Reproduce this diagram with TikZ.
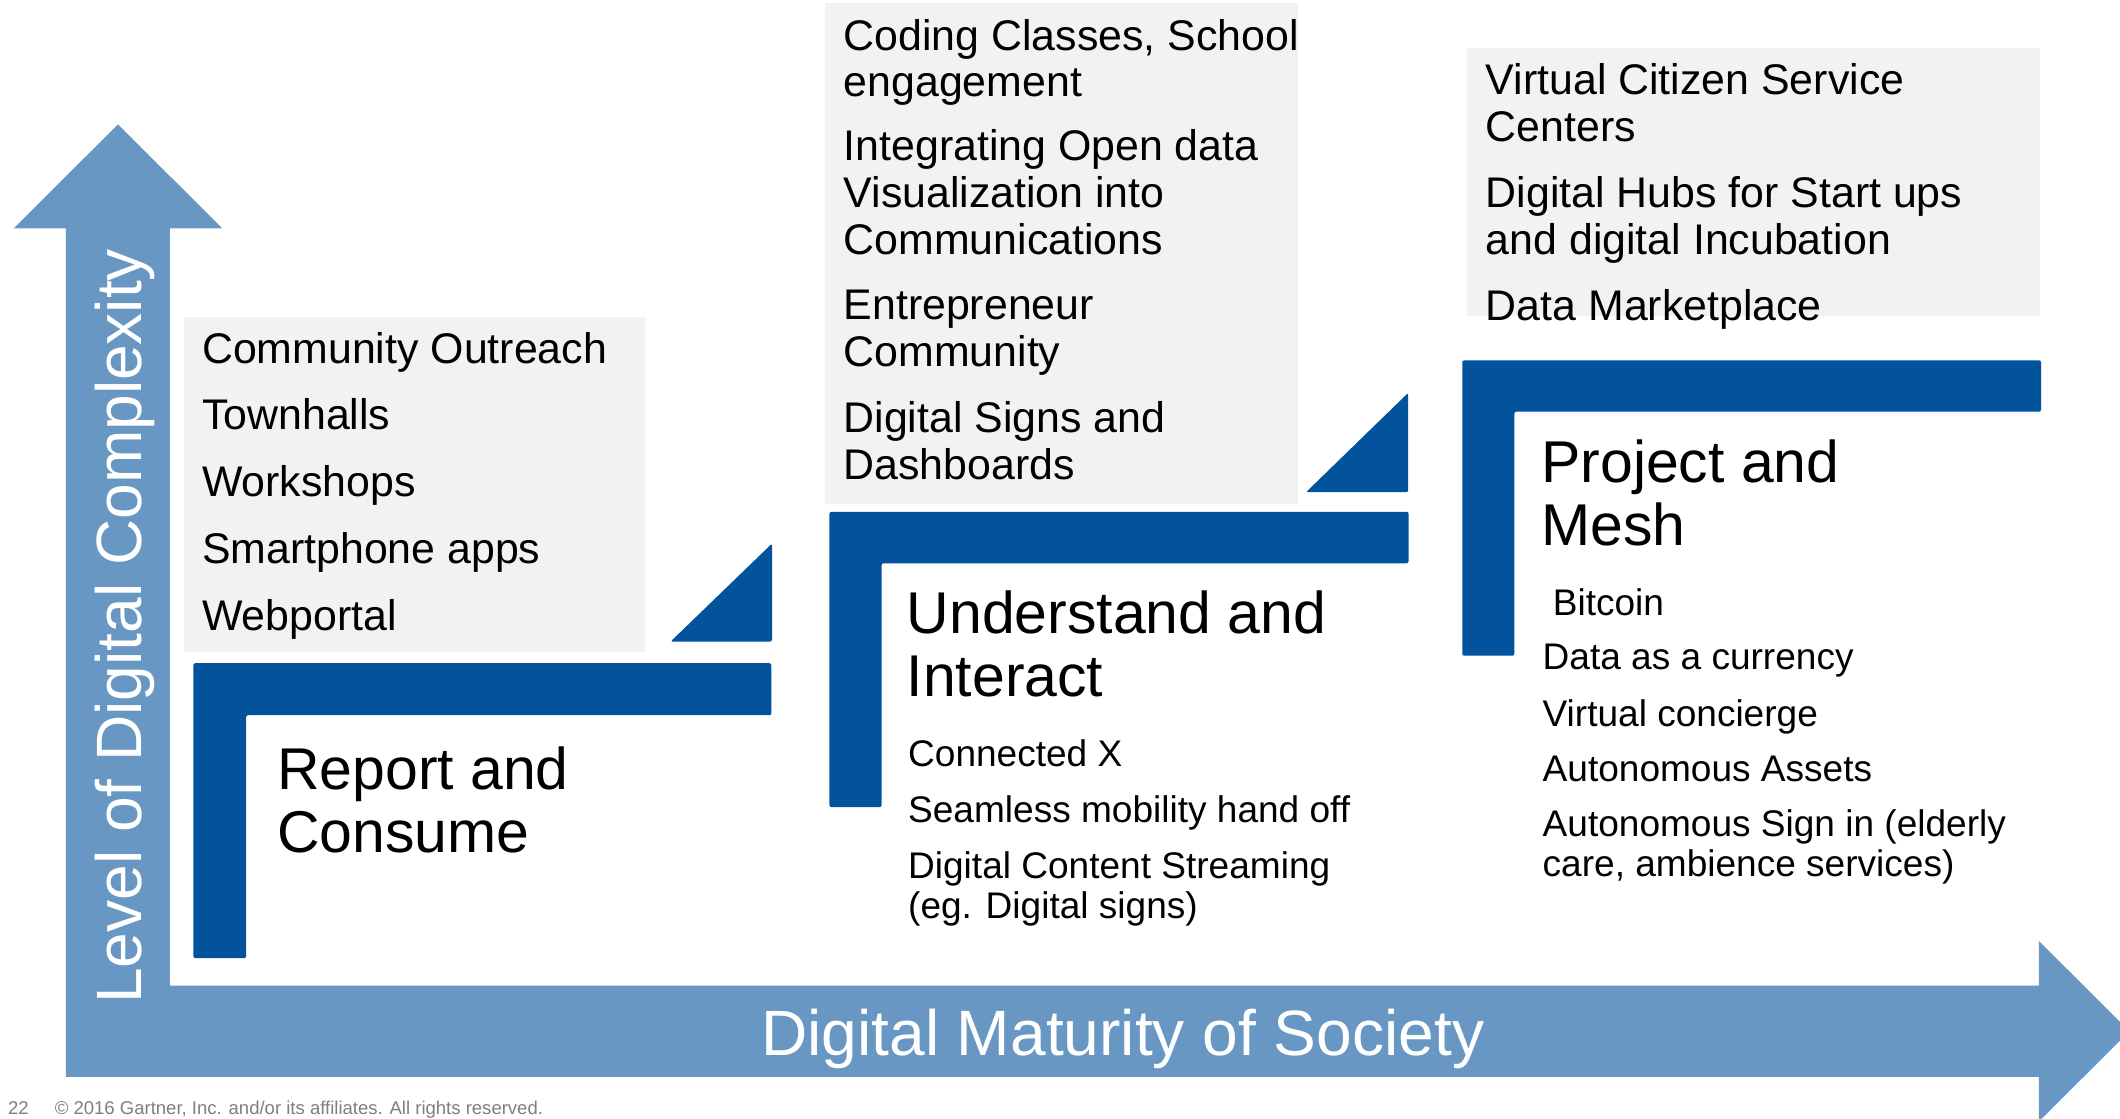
\documentclass[tikz,border=0pt]{standalone}
\usepackage{fontspec}
\setmainfont{Liberation Sans}
\definecolor{axisblue}{RGB}{104,151,195}
\definecolor{stepblue}{RGB}{2,83,155}
\definecolor{boxgray}{RGB}{242,242,242}
\definecolor{footgray}{RGB}{127,127,127}
\newcommand{\mylines}[1]{\begin{tabular}[t]{@{}l@{}}#1\end{tabular}}
\begin{document}
\begin{tikzpicture}[x=1pt,y=-1pt,
  txt/.style={anchor=base west, inner sep=0pt, outer sep=0pt},
  bigitem/.style={txt, font=\fontsize{31.7}{34.5}\selectfont},
  smallitem/.style={txt, font=\fontsize{27.4}{29}\selectfont},
  heading/.style={txt, font=\fontsize{43.6}{46.5}\selectfont},
  axislabel/.style={txt, text=white, font=\fontsize{47.4}{50}\selectfont},
  footer/.style={txt, text=footgray, font=\fontsize{13.7}{15}\selectfont},
  stepshape/.style={fill=stepblue, rounded corners=1.5pt},
  panel/.style={fill=boxgray}]
\useasboundingbox (0,0) rectangle (1568,827);
\clip (0,0) rectangle (1568,827);
\fill[white] (0,0) rectangle (1568,827);

% axes arrow (L-shaped, two heads)
\fill[axisblue] (48.8,796.4) -- (48.8,169) -- (10,169) -- (87.25,92) -- (164.5,169)
  -- (125.7,169) -- (125.7,729) -- (1508,729) -- (1508,696) -- (1575,762.7)
  -- (1508,829.4) -- (1508,796.4) -- cycle;

% grey panels
\fill[panel] (136,234.6) rectangle (477,482);
\fill[panel] (610,2) rectangle (960,372.5);
\fill[panel] (1085,35.6) rectangle (1509,233.6);

% steps
\fill[stepshape] (143,490.5) -- (570.5,490.5) -- (570.5,529) -- (182,529) -- (182,708.7) -- (143,708.7) -- cycle;
\fill[stepshape] (613.5,378.5) -- (1041.8,378.5) -- (1041.8,416.6) -- (652,416.6) -- (652,597) -- (613.5,597) -- cycle;
\fill[stepshape] (1081.5,266.5) -- (1509.6,266.5) -- (1509.6,304.5) -- (1120,304.5) -- (1120,485) -- (1081.5,485) -- cycle;
\fill[stepshape] (496,474.5) -- (571,474.5) -- (571,402) -- cycle;
\fill[stepshape] (966,364) -- (1041.5,364) -- (1041.5,290.6) -- cycle;

% left panel items
\node[bigitem] (co) at (149.5,269) {Community Outreach};
\node[bigitem] (th) at (149.5,318) {Townhalls};
\node[bigitem] (ws) at (149.5,367) {Workshops};
\node[bigitem] (sa) at (149.5,417) {Smartphone apps};
\node[bigitem] (wp) at (149.5,466) {Webportal};

% middle panel items
\node[bigitem] (cc) at (624,37) {\mylines{Coding Classes, School\\engagement}};
\node[bigitem] (io) at (624,119) {\mylines{Integrating Open data\\Visualization into\\Communications}};
\node[bigitem] (ec) at (624,236.5) {\mylines{Entrepreneur\\Community}};
\node[bigitem] (ds) at (624,320) {\mylines{Digital Signs and\\Dashboards}};

% right panel items
\node[bigitem] (vc) at (1099,70) {\mylines{Virtual Citizen Service\\Centers}};
\node[bigitem] (dh) at (1099,153.5) {\mylines{Digital Hubs for Start ups\\and digital Incubation}};
\node[bigitem] (dm) at (1099,236.7) {Data Marketplace};

% headings
\node[heading] (rc) at (205,584) {\mylines{Report and\\Consume}};
\node[heading] (ui) at (670.6,468.5) {\mylines{Understand and\\Interact}};
\node[heading] (pm) at (1140,356.7) {\mylines{Project and\\Mesh}};

% items under steps
\node[smallitem] (cx) at (671.7,567) {Connected X};
\node[smallitem] (sm) at (671.7,608.5) {Seamless mobility hand off};
\node[smallitem] (dcs) at (671.7,650) {\mylines{Digital Content Streaming\\(eg. Digital signs)}};

\node[smallitem] (bc) at (1148.5,455) {Bitcoin};
\node[smallitem] (dac) at (1141,495.5) {Data as a currency};
\node[smallitem] (vco) at (1141,537.5) {Virtual concierge};
\node[smallitem] (aa) at (1141,578) {Autonomous Assets};
\node[smallitem] (asi) at (1141,619) {\mylines{Autonomous Sign in (elderly\\care, ambience services)}};

% axis labels
\node[axislabel, rotate=90] (ylab) at (104.8,742.5) {Level of Digital Complexity};
\node[axislabel] (xlab) at (563,781) {Digital Maturity of Society};

% footer
\node[footer] (pg) at (6,824) {22};
\node[footer] (copy) at (40.5,824) {© 2016 Gartner, Inc. and/or its affiliates. All rights reserved.};
\end{tikzpicture}
\end{document}
